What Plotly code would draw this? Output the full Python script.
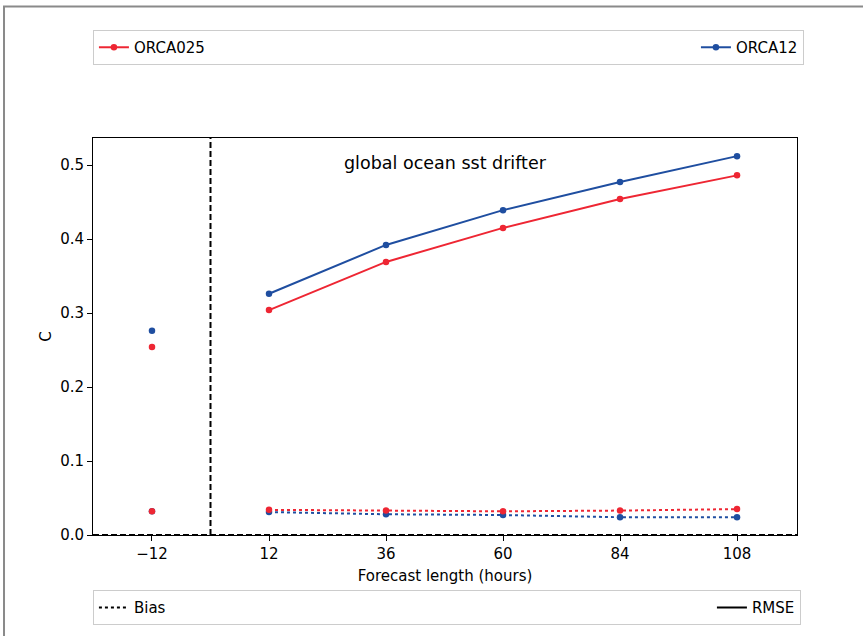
import plotly.graph_objects as go

# ---- data ----
lead_times = [12, 36, 60, 84, 108]
analysis_time = [-12]
tick_vals = [-12, 12, 36, 60, 84, 108]

rmse_orca025 = [0.304, 0.369, 0.415, 0.454, 0.486]
rmse_orca12 = [0.326, 0.392, 0.439, 0.477, 0.512]
bias_orca025 = [0.034, 0.033, 0.032, 0.033, 0.035]
bias_orca12 = [0.031, 0.028, 0.027, 0.024, 0.024]

ana_rmse_orca025 = [0.254]
ana_rmse_orca12 = [0.276]
ana_bias_orca025 = [0.032]
ana_bias_orca12 = [0.032]

RED = "#EE2633"
BLUE = "#1F4EA0"
FONT = "DejaVu Sans"
FS = 15

fig = go.Figure()

def add(x, y, color, dash, mode, name=None, rank=1000, lw=None):
    fig.add_trace(go.Scatter(
        x=x, y=y, mode=mode,
        line=dict(color=color, width=2, dash=dash),
        marker=dict(color=color, size=6.5),
        name=name or "",
        showlegend=name is not None,
        legend="legend",
        legendrank=rank,
        legendwidth=lw,
        hoverinfo="skip",
    ))

# blue first so red sits on top where they overlap
add(lead_times, bias_orca12, BLUE, "dot", "lines+markers")
add(analysis_time, ana_bias_orca12, BLUE, "solid", "markers")
add(lead_times, rmse_orca12, BLUE, "solid", "lines+markers", "ORCA12", 2)
add(analysis_time, ana_rmse_orca12, BLUE, "solid", "markers")
add(lead_times, bias_orca025, RED, "dot", "lines+markers")
add(analysis_time, ana_bias_orca025, RED, "solid", "markers")
add(lead_times, rmse_orca025, RED, "solid", "lines+markers", "ORCA025", 1, 557)
add(analysis_time, ana_rmse_orca025, RED, "solid", "markers")

# style legend entries
fig.add_trace(go.Scatter(x=[None], y=[None], mode="lines", name="Bias",
                         line=dict(color="black", width=2, dash="dot"),
                         legend="legend2", legendrank=1, legendwidth=573))
fig.add_trace(go.Scatter(x=[None], y=[None], mode="lines", name="RMSE",
                         line=dict(color="black", width=2),
                         legend="legend2", legendrank=2))

# reference lines
fig.add_shape(type="line", xref="x", yref="paper", x0=0, x1=0, y0=0, y1=1,
              line=dict(color="black", width=2, dash="6px,3px"))
fig.add_shape(type="line", xref="paper", yref="y", x0=0, x1=1, y0=0, y1=0,
              line=dict(color="black", width=2, dash="6px,3px"))
# outer frame
fig.add_shape(type="rect", xref="paper", yref="paper", x0=-0.1264, x1=1.3,
              y0=-0.5, y1=1.331, line=dict(color="#8a8a8a", width=2),
              layer="below")

fig.add_annotation(text="global ocean sst drifter", xref="paper", yref="paper",
                   x=0.5, y=0.937, xanchor="center", yanchor="middle",
                   showarrow=False,
                   font=dict(family=FONT, size=17.5, color="black"))

axis_common = dict(showline=True, linecolor="black", linewidth=1, mirror=True,
                   ticks="outside", ticklen=5, tickcolor="black",
                   showgrid=False, zeroline=False,
                   tickfont=dict(family=FONT, size=FS, color="black"))

fig.update_layout(
    width=863, height=636,
    margin=dict(l=93, r=66, t=138, b=101, autoexpand=False),
    plot_bgcolor="white", paper_bgcolor="white",
    font=dict(family=FONT, size=FS, color="black"),
    xaxis=dict(range=[-24.1, 120.3], tickvals=tick_vals,
               title=dict(text="Forecast length (hours)", standoff=8,
                          font=dict(family=FONT, size=FS)),
               **axis_common),
    yaxis=dict(range=[0, 0.5365], tickvals=[0, 0.1, 0.2, 0.3, 0.4, 0.5],
               tickformat=".1f",
               title=dict(text="C", standoff=4, font=dict(family=FONT, size=FS)),
               **axis_common),
    legend=dict(orientation="h", x=-0.0001, xanchor="left", y=1.272, yanchor="top",
                bordercolor="#cccccc", borderwidth=1, bgcolor="white",
                font=dict(family=FONT, size=FS)),
    legend2=dict(orientation="h", x=-0.0001, xanchor="left", y=-0.139, yanchor="top",
                 bordercolor="#cccccc", borderwidth=1, bgcolor="white",
                 font=dict(family=FONT, size=FS)),
)

fig.write_html("out.html", config={"displayModeBar": False},
               post_script="document.body.style.margin='0';")
